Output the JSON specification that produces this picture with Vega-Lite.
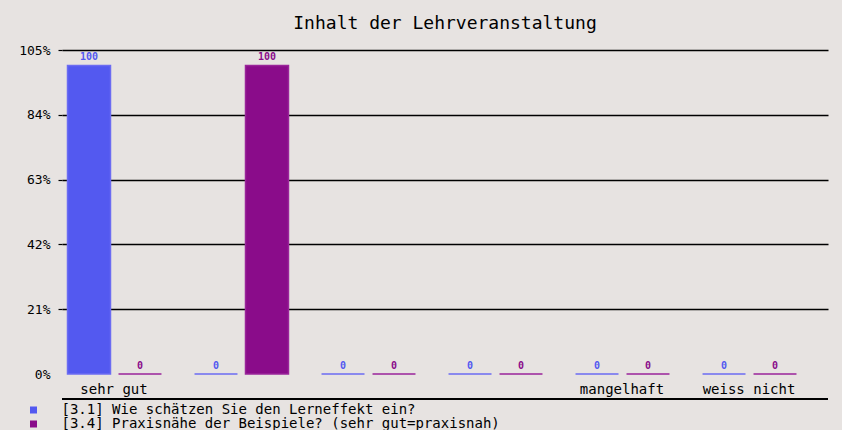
{
  "$schema": "https://vega.github.io/schema/vega-lite/v6.json",
  "width": 766,
  "height": 324,
  "autosize": "none",
  "padding": {"left": 62, "top": 50, "right": 14, "bottom": 56},
  "background": "#e7e3e1",
  "title": {"text": "Inhalt der Lehrveranstaltung", "font": "DejaVu Sans Mono", "fontSize": 18, "fontWeight": "normal", "color": "#000000", "anchor": "middle", "offset": 11},
  "config": {
    "view": {"stroke": null},
    "font": "DejaVu Sans Mono"
  },
  "data": {
    "values": [
      {"group": "sehr gut", "series": "[3.1] Wie schätzen Sie den Lerneffekt ein?", "value": 100},
      {"group": "sehr gut", "series": "[3.4] Praxisnähe der Beispiele? (sehr gut=praxisnah)", "value": 0},
      {"group": "gut", "series": "[3.1] Wie schätzen Sie den Lerneffekt ein?", "value": 0},
      {"group": "gut", "series": "[3.4] Praxisnähe der Beispiele? (sehr gut=praxisnah)", "value": 100},
      {"group": "befriedigend", "series": "[3.1] Wie schätzen Sie den Lerneffekt ein?", "value": 0},
      {"group": "befriedigend", "series": "[3.4] Praxisnähe der Beispiele? (sehr gut=praxisnah)", "value": 0},
      {"group": "ausreichend", "series": "[3.1] Wie schätzen Sie den Lerneffekt ein?", "value": 0},
      {"group": "ausreichend", "series": "[3.4] Praxisnähe der Beispiele? (sehr gut=praxisnah)", "value": 0},
      {"group": "mangelhaft", "series": "[3.1] Wie schätzen Sie den Lerneffekt ein?", "value": 0},
      {"group": "mangelhaft", "series": "[3.4] Praxisnähe der Beispiele? (sehr gut=praxisnah)", "value": 0},
      {"group": "weiss nicht", "series": "[3.1] Wie schätzen Sie den Lerneffekt ein?", "value": 0},
      {"group": "weiss nicht", "series": "[3.4] Praxisnähe der Beispiele? (sehr gut=praxisnah)", "value": 0}
    ]
  },
  "encoding": {
    "x": {
      "field": "group", "type": "nominal", "sort": null,
      "scale": {"paddingInner": 0, "paddingOuter": 0.0157, "align": 0},
      "axis": {
        "title": null, "domain": false, "ticks": false, "grid": false,
        "labelAngle": 0, "labelFont": "DejaVu Sans Mono", "labelFontSize": 14, "labelColor": "#000000",
        "labelPadding": 8, "labelOffset": -11.5,
        "labelExpr": "indexof(['gut','befriedigend','ausreichend'], datum.value) >= 0 ? '' : datum.value"
      }
    },
    "xOffset": {
      "field": "series", "type": "nominal", "sort": null,
      "scale": {"paddingInner": 0.157, "paddingOuter": 0.324, "align": 0.167}
    }
  },
  "layer": [
    {
      "mark": {"type": "rule", "color": "#000000", "strokeWidth": 1.5},
      "encoding": {"x": null, "xOffset": null, "y": {"datum": -8.1, "type": "quantitative"}}
    },
    {
      "mark": {"type": "bar", "strokeWidth": 1.5},
      "encoding": {
        "y": {
          "field": "value", "type": "quantitative",
          "scale": {"domain": [0, 105], "nice": false},
          "axis": {
            "title": null, "values": [0, 21, 42, 63, 84, 105],
            "labelExpr": "datum.value + '%'",
            "domain": false, "tickSize": 4, "tickColor": "#000000", "tickWidth": 1.2,
            "labelPadding": 8, "labelFont": "DejaVu Sans Mono", "labelFontSize": 13, "labelColor": "#000000",
            "grid": true, "gridColor": "#000000", "gridWidth": 1.3,
            "gridOpacity": {"condition": {"test": "datum.value === 0", "value": 0}, "value": 1},
            "tickOpacity": {"condition": {"test": "datum.value === 0", "value": 0}, "value": 1}
          }
        },
        "color": {
          "field": "series", "type": "nominal", "sort": null,
          "scale": {"range": ["#5359F0", "#8A0C8A"]},
          "legend": {
            "title": null, "orient": "none", "legendX": -35.5, "legendY": 353,
            "padding": 0, "symbolType": "square", "symbolSize": 49, "symbolStrokeWidth": 0,
            "labelFont": "DejaVu Sans Mono", "labelFontSize": 14, "labelColor": "#000000",
            "labelOffset": 21, "labelLimit": 800, "rowPadding": -2
          }
        },
        "stroke": {"field": "series", "type": "nominal", "sort": null, "scale": {"range": ["#6C6CF2", "#9A259A"]}, "legend": null}
      }
    },
    {
      "mark": {"type": "text", "baseline": "bottom", "dy": -3, "font": "DejaVu Sans Mono", "fontSize": 10, "fontWeight": "bold"},
      "encoding": {
        "y": {"field": "value", "type": "quantitative"},
        "text": {"field": "value", "type": "quantitative"},
        "color": {"field": "series", "type": "nominal", "sort": null, "legend": null}
      }
    }
  ]
}
